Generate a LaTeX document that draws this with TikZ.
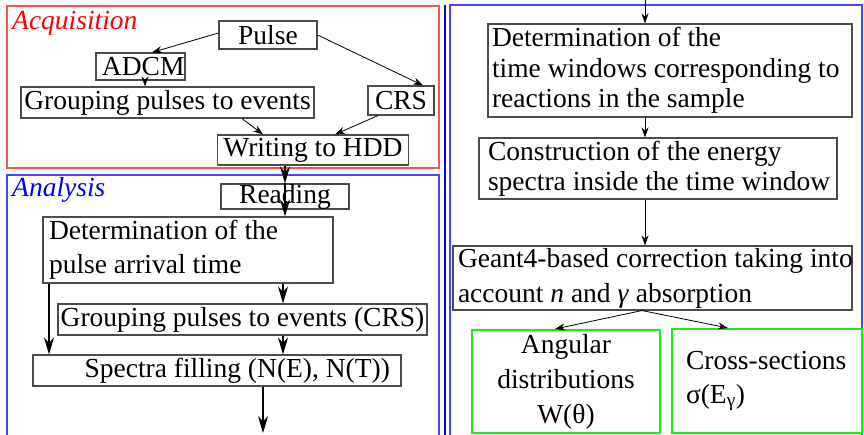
\documentclass[tikz,border=0pt]{standalone}
\usepackage{fontspec}
\setmainfont{Liberation Serif}
\usetikzlibrary{arrows.meta}

\definecolor{boxgray}{gray}{0.3}
\definecolor{acqred}{RGB}{255,80,80}
\definecolor{anablue}{RGB}{70,70,255}
\definecolor{resgreen}{RGB}{20,240,20}

\begin{document}
\begin{tikzpicture}[x=1pt,y=-1pt,
  fs/.style={font=\fontsize{27.5}{#1}\selectfont},
  box/.style={draw=boxgray, line width=1.1pt, inner sep=0pt, fs=34},
  resbox/.style={draw=resgreen, line width=2pt, inner sep=0pt, fs=34},
  arrS/.style={-{Stealth[length=10pt,width=7pt]}, line width=0.8pt},
  arrL/.style={-{Stealth[length=17pt,width=10pt]}, line width=1.2pt},
  framelabel/.style={anchor=base west, inner sep=0pt, font=\fontsize{27.5}{34}\selectfont\itshape}]

\useasboundingbox (0,0) rectangle (864,435);
\clip (0,0) rectangle (864,435);

% frames of the two stages
\draw[acqred, line width=1.2pt] (7,6) rectangle (439,168);
\draw[anablue, line width=1.2pt] (7,175) rectangle (439,445);
\draw[blue, line width=2pt] (444.5,5) -- (444.5,440);
\draw[anablue, line width=1.2pt] (450,5) rectangle (862,445);

\node[framelabel, text=red] (acqlabel) at (12,30) {Acquisition};
\node[framelabel, text=blue] (analabel) at (12,197) {Analysis};

% acquisition chain
\node[box, minimum width=98pt, minimum height=28pt] (pulse) at (268,35) {Pulse};
\node[box, minimum height=27pt, text width=88pt, inner xsep=0.5pt, align=flush right] (adcm) at (140.5,66.5) {ADCM};
\node[box, minimum width=293pt, minimum height=31pt] (grp) at (167.5,102.5) {Grouping pulses to events};
\node[box, minimum width=66pt, minimum height=29pt] (crs) at (401,100.5) {CRS};
\node[box, minimum width=191pt, minimum height=30pt] (hdd) at (313,150) {Writing to HDD};

% analysis chain
\node[box, minimum width=128pt, minimum height=25pt] (read) at (285,196.5) {Reading};
\node[box, minimum height=66pt, text width=278pt, inner xsep=6pt, align=flush left] (tarr) at (188,250)
  {Determination of the\\pulse arrival time};
\node[box, minimum width=369pt, minimum height=31pt] (grpcrs) at (242.5,319.5) {Grouping pulses to events (CRS)};
\node[box, minimum height=31pt, text width=346pt, inner xsep=11pt, align=flush right] (spec) at (217,370.5)
  {Spectra filling (N(E), N(T))};
\coordinate (specout) at (263,433);

% right column
\coordinate (rin) at (645,0);
\node[box, fs=30.5, minimum height=93pt, text width=356pt, inner xsep=4pt, align=flush left] (twin) at (670,70.5)
  {Determination of the\\time windows corresponding to\\reactions in the sample};
\node[box, fs=30, minimum height=61pt, text width=340pt, inner xsep=9pt, align=flush left] (espec) at (658,168.5)
  {Construction of the energy\\\mbox{spectra inside the time window}};
\node[box, fs=35, minimum height=64pt, text width=389pt, inner xsep=5pt, align=flush left] (geant) at (652.5,278)
  {\mbox{Geant4-based correction taking into}\\account \textit{n} and \textit{γ} absorption};
\node[resbox, fs=35, minimum width=188pt, minimum height=103pt, align=center] (ang) at (566,381.5)
  {Angular\\distributions\\W(θ)};
\node[resbox, minimum height=104pt, text width=162pt, inner xsep=14pt, align=flush left] (xs) at (767,381)
  {\mbox{Cross-sections}\\σ(E\textsubscript{γ})};

% connectors, acquisition
\draw[arrS] ([yshift=2pt]pulse.west) -- ([xshift=11.5pt]adcm.north);
\draw[arrS] (pulse.east) -- ([xshift=22pt]crs.north);
\draw[arrS] ([xshift=4.5pt]adcm.south) -- ([xshift=-22.5pt]grp.north);
\draw[arrS] ([xshift=74.5pt]grp.south) -- ([xshift=-50pt]hdd.north);
\draw[arrS] ([xshift=-23pt]crs.south) -- ([xshift=22pt]hdd.north);

% connectors, analysis
\draw[arrL] ([xshift=-28pt]hdd.south) -- (read.north);
\draw[arrL] (read.north) -- ([xshift=97pt]tarr.north);
\draw[arrL] ([xshift=95pt]tarr.south) -- ([xshift=40.5pt]grpcrs.north);
\draw[arrL] ([xshift=40.5pt]grpcrs.south) -- ([xshift=66pt]spec.north);
\draw[arrL] ([xshift=-139pt]tarr.south) -- ([xshift=-168pt]spec.north);
\draw[arrL] ([xshift=46pt]spec.south) -- (specout);

% connectors, right column
\draw[arrS] (rin) -- ([xshift=-25pt]twin.north);
\draw[arrS] ([xshift=-25pt]twin.south) -- ([xshift=-13pt]espec.north);
\draw[arrS] ([xshift=-13pt]espec.south) -- ([xshift=-7.5pt]geant.north);
\draw[arrS] ([xshift=-10.5pt]geant.south) -- ([xshift=-11pt]ang.north);
\draw[arrS] ([xshift=-10.5pt]geant.south) -- ([xshift=-39pt]xs.north);

\end{tikzpicture}
\end{document}
